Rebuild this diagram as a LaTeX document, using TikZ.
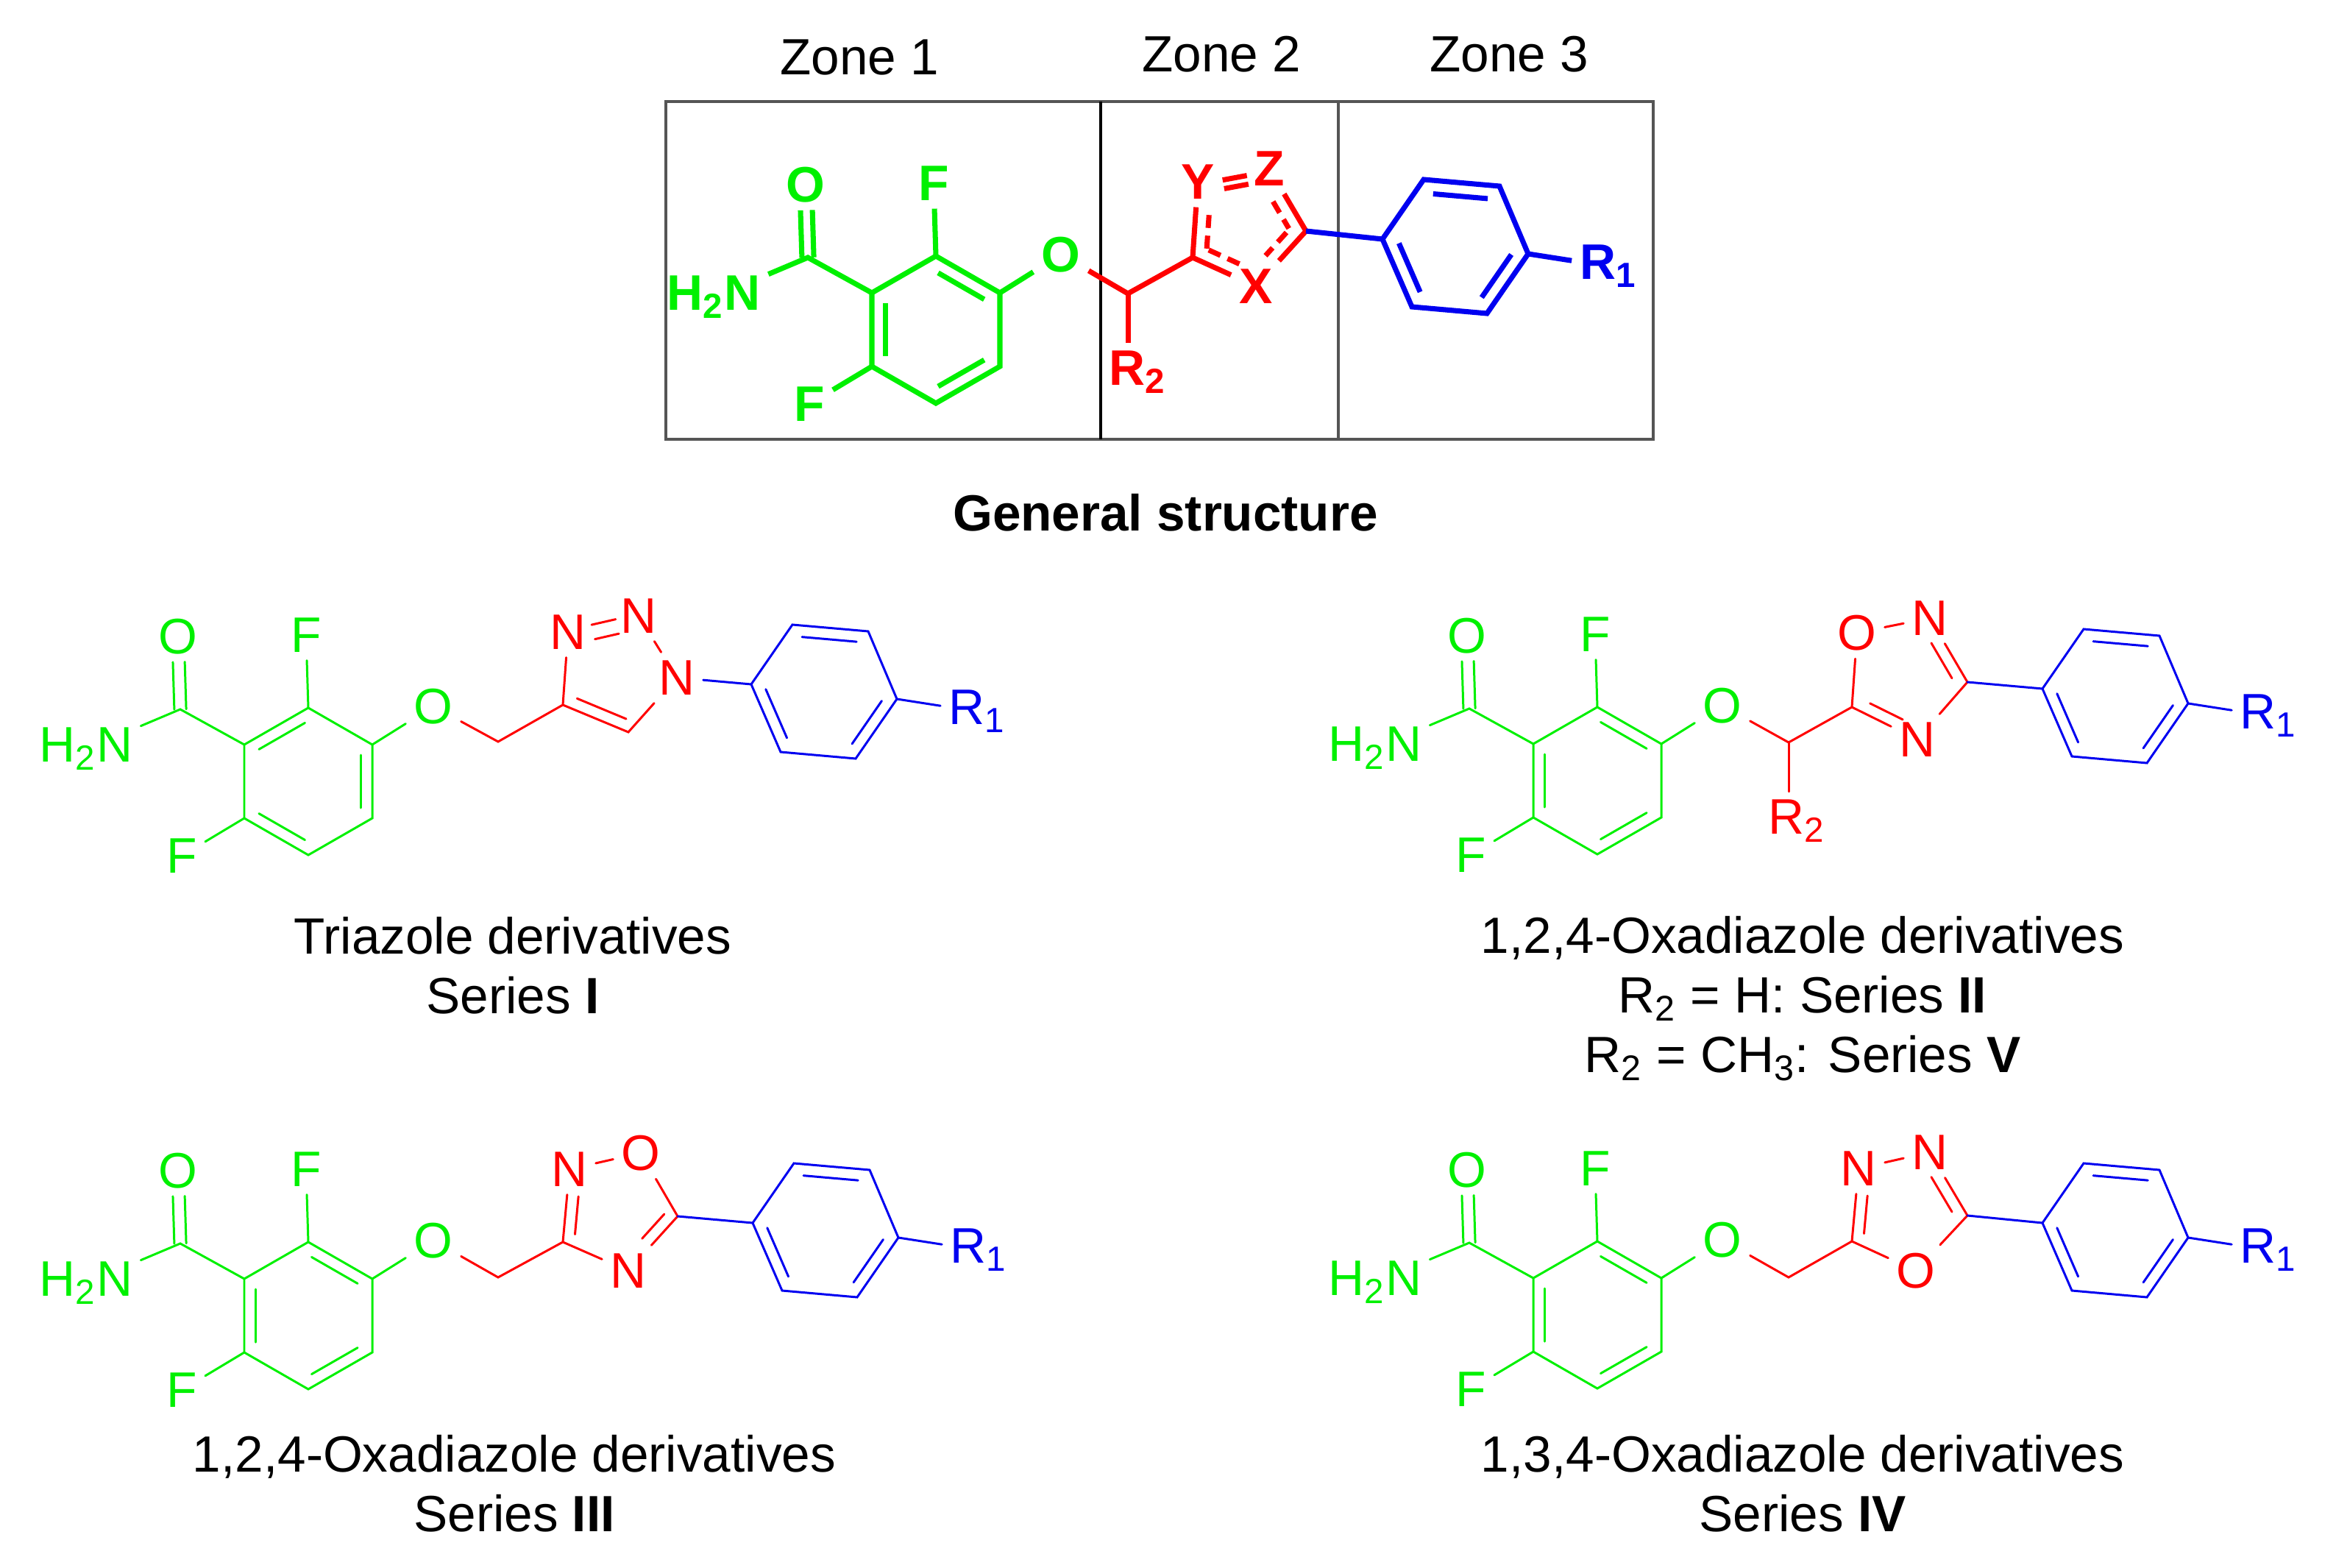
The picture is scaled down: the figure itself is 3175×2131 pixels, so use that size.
\documentclass[tikz,border=0pt]{standalone}
\usepackage{fontspec}
\setmainfont{Liberation Sans}
\usetikzlibrary{calc}

\definecolor{molgreen}{HTML}{00F000}
\definecolor{molred}{HTML}{FF0000}
\definecolor{molblue}{HTML}{0000F0}
\definecolor{boxgray}{HTML}{555555}

\newcommand{\atomfont}{\fontsize{19.3}{23}\selectfont}
\newcommand{\capfont}{\fontsize{19.7}{23}\selectfont}
\newcommand{\innerdist}{4.4pt}
\newcommand{\shiftbond}[6][]{\draw[bond,#1] ($(#2)!#5!(#3)!#4!-90:(#3)$) -- ($(#2)!#6!(#3)!#4!-90:(#3)$);}
\newcommand{\innerbond}[5][]{\shiftbond[#1]{#2}{#3}{\innerdist}{#4}{#5}}
\newcommand{\ringdoubles}[3]{\foreach \a/\b in {#3} {\innerbond[#2]{#1-\a}{#1-\b}{.14}{.86}}}

\tikzset{
    bond/.style={line width=.85pt, line cap=round},
    gbond/.style={bond, molgreen},
    rbond/.style={bond, molred},
    bbond/.style={bond, molblue},
    atom/.style={inner sep=3pt, font=\atomfont},
    gatom/.style={atom, text=molgreen},
    ratom/.style={atom, text=molred},
    batom/.style={atom, text=molblue},
    caption/.style={align=center, font=\capfont},
    dashbond/.style={dash pattern=on 5pt off 3pt, line cap=butt},
    benzamide/.pic={
        \coordinate (-C2) at (0,0);
        \coordinate (-C1) at (-87,50);
        \coordinate (-C3) at (87,50);
        \coordinate (-C4) at (87,150);
        \coordinate (-C5) at (0,200);
        \coordinate (-C6) at (-87,150);
        \coordinate (-CO) at (-174,2);
        \node[gatom] (-Oc) at (-177,-97) {O};
        \node[gatom] (-NH) at (-302,56) {H\textsubscript{2}N};
        \node[gatom] (-Fa) at (-3,-99) {F};
        \node[gatom] (-Fb) at (-172,201) {F};
        \node[gatom] (-O) at (170,-2) {O};
        \draw[gbond] (-C1) -- (-C2) -- (-C3) -- (-C4) -- (-C5) -- (-C6) -- cycle;
        \draw[gbond] (-C1) -- (-CO) -- (-NH);
        \draw[gbond] (-C2) -- (-Fa);
        \draw[gbond] (-C6) -- (-Fb);
        \draw[gbond] (-C3) -- (-O);
        \shiftbond[gbond]{-CO}{-Oc}{2.3pt}{0}{.65}
        \shiftbond[gbond]{-CO}{-Oc}{-2.3pt}{0}{.65}
    },
    aryl/.pic={
        \coordinate (-A) at (0,0);
        \coordinate (-B) at (56,-81);
        \coordinate (-C) at (159,-72);
        \coordinate (-D) at (198,20);
        \coordinate (-E) at (142,101);
        \coordinate (-F) at (40,92);
        \node[batom] (-R) at (307,37) {R\textsubscript{1}};
        \draw[bbond] (-A) -- (-B) -- (-C) -- (-D) -- (-E) -- (-F) -- cycle;
        \draw[bbond] (-D) -- (-R);
        \innerbond[bbond]{-B}{-C}{.14}{.86}
        \innerbond[bbond]{-D}{-E}{.14}{.86}
        \innerbond[bbond]{-F}{-A}{.14}{.86}
    }
}

\begin{document}
\begin{tikzpicture}[x=0.01cm, y=-0.01cm]
    \useasboundingbox (0,0) rectangle (3175,2131);

    % Zones
    \node[caption] (zone1) at (1168,78) {Zone 1};
    \node[caption] (zone2) at (1660,74) {Zone 2};
    \node[caption] (zone3) at (2051,74) {Zone 3};
    \coordinate (boxA) at (905,138);
    \coordinate (boxB) at (2247,597);
    \coordinate (divA) at (1496,138);
    \coordinate (divB) at (1496,597);
    \coordinate (divC) at (1819,138);
    \coordinate (divD) at (1819,597);
    \draw[boxgray, line width=1pt] (boxA) rectangle (boxB);
    \draw[black, line width=1pt] (divA) -- (divB);
    \draw[boxgray, line width=1.2pt] (divC) -- (divD);

    % General structure
    \begin{scope}[bond/.style={line width=2pt},
        atom/.style={inner sep=3pt, font=\atomfont\bfseries}]
        \renewcommand{\innerdist}{5.2pt}
        \pic (g) at (1272,348) {benzamide};
        \ringdoubles{g}{gbond}{C2/C3,C6/C1,C4/C5}
        \coordinate (gCH) at (1533,399);
        \coordinate (gCa) at (1621,350);
        \coordinate (gCb) at (1775,314);
        \node[ratom] (gR) at (1546,506) {R\textsubscript{2}};
        \node[ratom] (gY) at (1628,247) {Y};
        \node[ratom] (gZ) at (1725,229) {Z};
        \node[ratom] (gX) at (1707,389) {X};
        \draw[rbond] (g-O) -- (gCH) -- (gCa) -- (gY);
        \draw[rbond] (gCH) -- (gCH |- gR.north);
        \draw[rbond] (gCa) -- (gX) -- (gCb) -- (gZ);
        \innerbond[rbond,dashbond]{gCa}{gY}{.13}{.62}
        \innerbond[rbond,dashbond]{gX}{gCa}{.35}{.88}
        \innerbond[rbond,dashbond]{gZ}{gCb}{.42}{.85}
        \innerbond[rbond,dashbond]{gCb}{gX}{.19}{.61}
        \shiftbond[rbond]{gY}{gZ}{1.1pt}{.34}{.68}
        \shiftbond[rbond]{gY}{gZ}{4.5pt}{.34}{.68}
        \pic (ga) at (1879,325) {aryl};
        \draw[bbond] (gCb) -- (ga-A);
    \end{scope}
    \node[caption, font=\capfont\bfseries] (gcap) at (1584,697) {General structure};

    % Series I
    \pic (a) at (419,962) {benzamide};
    \ringdoubles{a}{gbond}{C1/C2,C3/C4,C5/C6}
    \coordinate (aCH) at (677,1008);
    \coordinate (aCa) at (765,958);
    \coordinate (aCb) at (854,995);
    \node[ratom] (aNa) at (772,859) {N};
    \node[ratom] (aNb) at (868,837) {N};
    \node[ratom] (aNc) at (920,921) {N};
    \draw[rbond] (a-O) -- (aCH) -- (aCa) -- (aNa);
    \draw[rbond] (aCa) -- (aCb) -- (aNc) -- (aNb);
    \innerbond[rbond]{aCb}{aCa}{.1}{.85}
    \shiftbond[rbond]{aNa}{aNb}{-.7pt}{.34}{.68}
    \shiftbond[rbond]{aNa}{aNb}{5pt}{.34}{.68}
    \pic (aa) at (1021,930) {aryl};
    \draw[bbond] (aNc) -- (aa-A);
    \node[caption] (acap) at (697,1312) {Triazole derivatives\\Series \textbf{I}};

    % Series II / V
    \pic (b) at (2171,961) {benzamide};
    \ringdoubles{b}{gbond}{C2/C3,C6/C1,C4/C5}
    \coordinate (bCH) at (2431,1009);
    \coordinate (bCa) at (2517,961);
    \coordinate (bCb) at (2674,927);
    \node[ratom] (bR) at (2442,1116) {R\textsubscript{2}};
    \node[ratom] (bO) at (2524,860) {O};
    \node[ratom] (bNa) at (2623,840) {N};
    \node[ratom] (bNb) at (2606,1005) {N};
    \draw[rbond] (b-O) -- (bCH) -- (bCa) -- (bO) -- (bNa) -- (bCb) -- (bNb) -- (bCa);
    \draw[rbond] (bCH) -- (bCH |- bR.north);
    \innerbond[rbond]{bNb}{bCa}{.3}{.8}
    \innerbond[rbond]{bNa}{bCb}{.3}{.85}
    \pic (ba) at (2776,936) {aryl};
    \draw[bbond] (bCb) -- (ba-A);
    \node[caption] (bcap) at (2450,1357) {1,2,4-Oxadiazole derivatives\\R\textsubscript{2} = H: Series \textbf{II}\\R\textsubscript{2} = CH\textsubscript{3}: Series \textbf{V}};

    % Series III
    \pic (c) at (419,1688) {benzamide};
    \ringdoubles{c}{gbond}{C2/C3,C6/C1,C4/C5}
    \coordinate (cCH) at (677,1736);
    \coordinate (cCa) at (765,1688);
    \coordinate (cCb) at (921,1653);
    \node[ratom] (cNa) at (774,1589) {N};
    \node[ratom] (cO) at (871,1567) {O};
    \node[ratom] (cNb) at (854,1727) {N};
    \draw[rbond] (c-O) -- (cCH) -- (cCa) -- (cNa) -- (cO) -- (cCb) -- (cNb) -- (cCa);
    \innerbond[rbond]{cCa}{cNa}{.12}{.64}
    \innerbond[rbond]{cCb}{cNb}{.1}{.55}
    \pic (ca) at (1023,1662) {aryl};
    \draw[bbond] (cCb) -- (ca-A);
    \node[caption] (ccap) at (699,2016) {1,2,4-Oxadiazole derivatives\\Series \textbf{III}};

    % Series IV
    \pic (d) at (2171,1687) {benzamide};
    \ringdoubles{d}{gbond}{C2/C3,C6/C1,C4/C5}
    \coordinate (dCH) at (2431,1736);
    \coordinate (dCa) at (2517,1687);
    \coordinate (dCb) at (2674,1652);
    \node[ratom] (dNa) at (2526,1588) {N};
    \node[ratom] (dNb) at (2623,1566) {N};
    \node[ratom] (dO) at (2604,1727) {O};
    \draw[rbond] (d-O) -- (dCH) -- (dCa) -- (dNa) -- (dNb) -- (dCb) -- (dO) -- (dCa);
    \innerbond[rbond]{dCa}{dNa}{.12}{.64}
    \innerbond[rbond]{dNb}{dCb}{.3}{.85}
    \pic (da) at (2776,1662) {aryl};
    \draw[bbond] (dCb) -- (da-A);
    \node[caption] (dcap) at (2450,2016) {1,3,4-Oxadiazole derivatives\\Series \textbf{IV}};

\end{tikzpicture}
\end{document}
